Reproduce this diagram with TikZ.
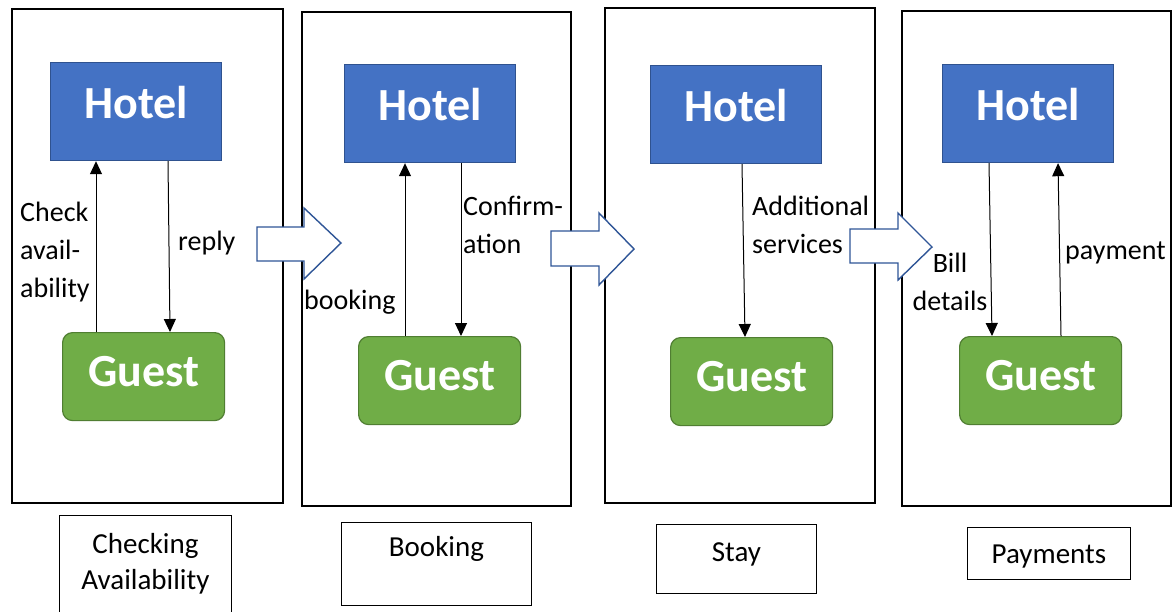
\documentclass[tikz,border=0pt]{standalone}
\usepackage{fontspec}
\setmainfont{Carlito}
\usetikzlibrary{arrows.meta}
\definecolor{hotelfill}{HTML}{4472C4}
\definecolor{hoteledge}{HTML}{2F528F}
\definecolor{guestfill}{HTML}{70AD47}
\definecolor{guestedge}{HTML}{507E32}
\definecolor{flowedge}{HTML}{2F5597}

\begin{document}
\begin{tikzpicture}[x=1pt,y=-1pt,
  stage/.style={draw=black, line width=1.6pt, inner sep=0pt, anchor=north west},
  hotel/.style={fill=hotelfill, draw=hoteledge, line width=1.2pt, text=white,
    font=\fontsize{46}{50}\selectfont\bfseries, inner sep=0pt,
    minimum width=171pt, text height=56pt, text depth=42pt, anchor=north west},
  guest/.style={fill=guestfill, draw=guestedge, line width=1.2pt, rounded corners=10pt,
    text=white, font=\fontsize{46}{50}\selectfont\bfseries, inner sep=0pt,
    minimum width=162pt, text height=54pt, text depth=34pt, anchor=north west},
  msg/.style={draw=black, line width=1pt, -{Triangle[width=12pt,length=13pt]}},
  note/.style={font=\fontsize{28}{38}\selectfont, inner sep=0pt, text=black},
  caption/.style={draw=black, line width=0.9pt, font=\fontsize{29}{36}\selectfont,
    inner sep=0pt, anchor=north west},
  flow/.style={draw=flowedge, line width=1.4pt, fill=white, line join=miter}
]
\useasboundingbox (0,0) rectangle (1174,611);
\clip (0,0) rectangle (1174,611);
\fill[white] (0,0) rectangle (1174,611);

% stage frames
\node[stage, minimum width=271pt, minimum height=494pt] (f1) at (11,8) {};
\node[stage, minimum width=269pt, minimum height=494pt] (f2) at (301,11) {};
\node[stage, minimum width=270pt, minimum height=495pt] (f3) at (604,7) {};
\node[stage, minimum width=269pt, minimum height=495pt] (f4) at (901,10) {};

% block arrows between the stages
\draw[flow] (257,227) -- (304,227) -- (304,208) -- (341,243) -- (304,279) -- (304,261) -- (257,261) -- cycle;
\draw[flow] (551,231) -- (599,231) -- (599,213) -- (634,249) -- (599,285) -- (599,266) -- (551,266) -- cycle;
\draw[flow] (850,229) -- (898,229) -- (898,213) -- (932,247) -- (898,280) -- (898,263) -- (850,263) -- cycle;

% actors
\node[hotel] (h1) at (50,62) {Hotel};
\node[hotel] (h2) at (344,64) {Hotel};
\node[hotel] (h3) at (650,65) {Hotel};
\node[hotel] (h4) at (942,64) {Hotel};
\node[guest] (g1) at (62,332) {Guest};
\node[guest] (g2) at (358,336) {Guest};
\node[guest] (g3) at (670,337) {Guest};
\node[guest] (g4) at (959,336) {Guest};

% message lines
\coordinate (u1) at (96,0);
\coordinate (d1a) at (168,0);
\coordinate (d1b) at (170,0);
\coordinate (u2) at (405,0);
\coordinate (d2) at (461,0);
\coordinate (d3a) at (742,0);
\coordinate (d3b) at (745,0);
\coordinate (d4a) at (989,0);
\coordinate (d4b) at (992,0);
\coordinate (u4a) at (1061,0);
\coordinate (u4b) at (1058,0);
\draw[msg] (g1.north -| u1) -- (h1.south -| u1);
\draw[msg] (h1.south -| d1a) -- (g1.north -| d1b);
\draw[msg] (g2.north -| u2) -- (h2.south -| u2);
\draw[msg] (h2.south -| d2) -- (g2.north -| d2);
\draw[msg] (h3.south -| d3a) -- (g3.north -| d3b);
\draw[msg] (h4.south -| d4a) -- (g4.north -| d4b);
\draw[msg] (g4.north -| u4a) -- (h4.south -| u4b);

% message labels
\node[note, align=left, anchor=west] (n1) at (20,252) {Check\\avail-\\ability};
\node[note, anchor=west] (n2) at (178,243) {reply};
\node[note, align=left, anchor=west] (n3) at (463,225) {Confirm-\\ation};
\node[note, anchor=west] (n4) at (304,302) {booking};
\node[note, align=left, anchor=west] (n5) at (752,225) {Additional\\services};
\node[note, align=center] (n6) at (950,282) {Bill\\details};
\node[note, anchor=west] (n7) at (1065,253) {payment};

% stage captions
\node[caption, align=center, minimum width=172pt, minimum height=97pt] (c1) at (59,515) {Checking\\Availability};
\node[caption, minimum width=190pt, text height=34pt, text depth=49pt] (c2) at (341,522) {Booking};
\node[caption, minimum width=160pt, text height=37pt, text depth=32pt] (c3) at (656,524) {Stay};
\node[caption, minimum width=163pt, text height=36pt, text depth=16pt] (c4) at (967,527) {Payments};
\end{tikzpicture}
\end{document}
